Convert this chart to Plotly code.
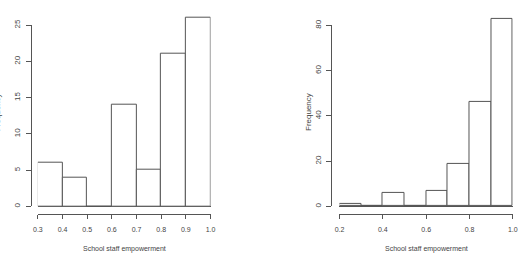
import plotly.graph_objects as go

W, H = 524, 272

# ---- data ----
bin_width = 0.1
left_bin_starts = [0.3, 0.4, 0.5, 0.6, 0.7, 0.8, 0.9]
left_counts = [6, 4, 0, 14, 5, 21, 26]
right_bin_starts = [0.2, 0.3, 0.4, 0.5, 0.6, 0.7, 0.8, 0.9]
right_counts = [1, 0, 6, 0, 7, 19, 46, 83]
left_xticks = [0.3, 0.4, 0.5, 0.6, 0.7, 0.8, 0.9, 1.0]
right_xticks = [0.2, 0.4, 0.6, 0.8, 1.0]
left_yticks = [0, 5, 10, 15, 20, 25]
right_yticks = [0, 20, 40, 60, 80]
x_label = "School staff empowerment"
y_label = "Frequency"

LINE = "#555555"
TXT = "#444444"
HFONT = dict(family="Liberation Sans, Arial", size=7, color=TXT)
VFONT = dict(family="Liberation Sans, Arial", size=8, color=TXT)


def px(x):
    return x / W


def py(y):
    return 1 - y / H


fig = go.Figure()


def centers(starts):
    return [s + bin_width / 2 for s in starts]


fig.add_trace(go.Bar(x=centers(left_bin_starts), y=left_counts, width=bin_width,
                     marker=dict(color="white", line=dict(color=LINE, width=1)),
                     xaxis="x", yaxis="y", showlegend=False, hoverinfo="skip"))
fig.add_trace(go.Bar(x=centers(right_bin_starts), y=right_counts, width=bin_width,
                     marker=dict(color="white", line=dict(color=LINE, width=1)),
                     xaxis="x2", yaxis="y2", showlegend=False, hoverinfo="skip"))
# dummy traces to host the R-style y axes
fig.add_trace(go.Scatter(x=[None], y=[None], xaxis="x", yaxis="y3", showlegend=False))
fig.add_trace(go.Scatter(x=[None], y=[None], xaxis="x2", yaxis="y4", showlegend=False))

base_y0 = 205.7   # pixel row of count 0
L_top, L_scale = 19.7, (205.7 - 19.7) / 25
R_top, R_scale = 20.0, (205.7 - 20.0) / 80
L_max, R_max = 27, 86

xcommon = dict(showline=True, linecolor=LINE, linewidth=1, ticks="outside", ticklen=4,
               tickcolor=LINE, tickwidth=1, showgrid=False, zeroline=False,
               tickfont=HFONT, anchor="free", position=py(213.5), ticklabelstandoff=5,
               fixedrange=True)
ycommon_hidden = dict(visible=True, showline=False, showticklabels=False, ticks="",
                      showgrid=False, zeroline=True, zerolinecolor=LINE, zerolinewidth=1,
                      fixedrange=True)
ycommon_disp = dict(showline=True, linecolor=LINE, linewidth=1, ticks="outside", ticklen=5,
                    tickcolor=LINE, tickwidth=1, showgrid=False, zeroline=False,
                    tickfont=VFONT, tickangle=-90, anchor="free", ticklabelstandoff=2,
                    fixedrange=True)

fig.update_layout(
    width=W, height=H, margin=dict(l=0, r=0, t=0, b=0),
    plot_bgcolor="rgba(0,0,0,0)", paper_bgcolor="white", bargap=0,
    xaxis=dict(domain=[px(33.5), px(209.5)], range=[0.3, 1.0],
               tickvals=left_xticks, ticktext=[f"{v:.1f}" for v in left_xticks], **xcommon),
    xaxis2=dict(domain=[px(341), px(517.7)], range=[0.2, 1.0],
                tickvals=right_xticks, ticktext=[f"{v:.1f}" for v in right_xticks], **xcommon),
    yaxis=dict(domain=[py(base_y0), py(base_y0 - L_max * L_scale)], range=[0, L_max],
               anchor="x", **ycommon_hidden),
    yaxis2=dict(domain=[py(base_y0), py(base_y0 - R_max * R_scale)], range=[0, R_max],
                anchor="x2", **ycommon_hidden),
    yaxis3=dict(domain=[py(base_y0), py(L_top)], range=[0, 25], tickvals=left_yticks,
                position=px(26), **ycommon_disp),
    yaxis4=dict(domain=[py(base_y0), py(R_top)], range=[0, 80], tickvals=right_yticks,
                position=px(332.5), **ycommon_disp),
)

annots = [
    dict(text=x_label, x=0.5, xref="x domain", y=py(249.3), yref="paper", font=HFONT),
    dict(text=x_label, x=0.5, xref="x2 domain", y=py(249.3), yref="paper", font=HFONT),
    dict(text=y_label, x=0, xref="paper", y=py(109), yref="paper", font=VFONT,
         textangle=-90, xshift=-8),
    dict(text=y_label, x=px(308.7), xref="paper", y=py(109), yref="paper", font=VFONT,
         textangle=-90),
]
for a in annots:
    fig.add_annotation(showarrow=False, xanchor="center", yanchor="middle", **a)

fig.write_html("out.html")
